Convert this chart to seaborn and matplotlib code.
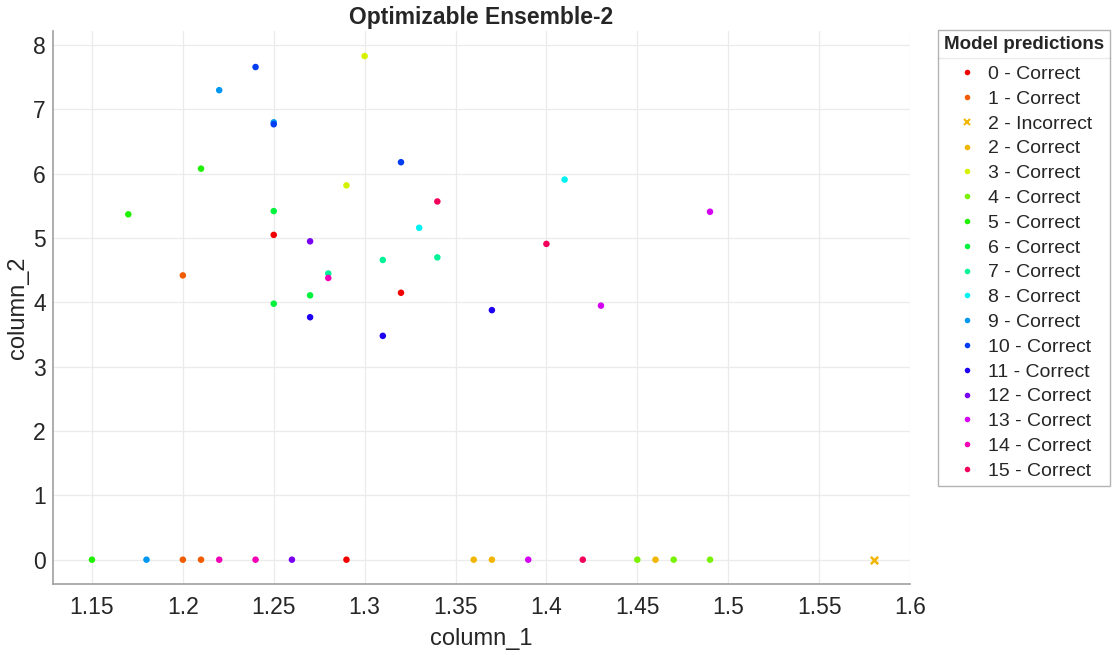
import matplotlib
matplotlib.use("Agg")
import matplotlib.pyplot as plt
import matplotlib.colors as mcolors
from matplotlib.lines import Line2D
import seaborn as sns
import pandas as pd
import numpy as np

# ---- data ----
x_vals = [1.24, 1.22, 1.25, 1.25, 1.30, 1.21, 1.32, 1.29, 1.17, 1.25, 1.25, 1.27,
          1.34, 1.33, 1.41, 1.20, 1.28, 1.28, 1.31, 1.34, 1.40, 1.27, 1.32, 1.25,
          1.27, 1.31, 1.37, 1.43, 1.49,
          1.15, 1.18, 1.20, 1.21, 1.22, 1.24, 1.26, 1.29, 1.36, 1.37, 1.39, 1.42,
          1.45, 1.46, 1.47, 1.49, 1.58]
y_vals = [7.66, 7.30, 6.80, 6.77, 7.83, 6.08, 6.18, 5.82, 5.37, 5.42, 5.05, 4.95,
          5.57, 5.16, 5.91, 4.42, 4.45, 4.38, 4.66, 4.70, 4.91, 4.11, 4.15, 3.98,
          3.77, 3.48, 3.88, 3.95, 5.41,
          0, 0, 0, 0, 0, 0, 0, 0, 0, 0, 0, 0,
          0, 0, 0, 0, 0]
classes = [10, 9, 9, 10, 3, 5, 10, 3, 5, 6, 0, 12,
           15, 8, 8, 1, 7, 14, 7, 7, 15, 6, 0, 6,
           11, 11, 11, 13, 13,
           5, 9, 1, 1, 14, 14, 12, 0, 2, 2, 13, 15,
           4, 2, 4, 4, 2]
correct = [True] * 45 + [False]

legend_labels = ["0 - Correct", "1 - Correct", "2 - Incorrect", "2 - Correct",
                 "3 - Correct", "4 - Correct", "5 - Correct", "6 - Correct",
                 "7 - Correct", "8 - Correct", "9 - Correct", "10 - Correct",
                 "11 - Correct", "12 - Correct", "13 - Correct", "14 - Correct",
                 "15 - Correct"]
x_ticks = [1.15, 1.2, 1.25, 1.3, 1.35, 1.4, 1.45, 1.5, 1.55, 1.6]
x_tick_labels = ["1.15", "1.2", "1.25", "1.3", "1.35", "1.4", "1.45", "1.5", "1.55", "1.6"]
y_ticks = [0, 1, 2, 3, 4, 5, 6, 7, 8]

# ---- build frame ----
df = pd.DataFrame({"column_1": x_vals, "column_2": y_vals,
                   "cls": classes, "correct": correct})
df["label"] = [f"{c} - {'Correct' if ok else 'Incorrect'}" for c, ok in zip(df.cls, df.correct)]

n_cls = 16
cls_colors = {c: mcolors.hsv_to_rgb((c / n_cls, 1.0, 0.95)) for c in range(n_cls)}
palette = {lab: cls_colors[int(lab.split(" ")[0])] for lab in legend_labels}

sns.set_style("white")
plt.rcParams["font.family"] = ["Liberation Sans", "DejaVu Sans"]

fig = plt.figure(figsize=(11.16, 6.55), dpi=100)
ax = fig.add_axes([52.5 / 1116, 1 - 584 / 655, (910 - 52.5) / 1116, (584 - 31) / 655])

ok_df = df[df.correct]
bad_df = df[~df.correct]
sns.scatterplot(data=ok_df, x="column_1", y="column_2", hue="label",
                palette=palette, s=22, linewidth=0, legend=False, ax=ax, zorder=3)
sns.scatterplot(data=bad_df, x="column_1", y="column_2", hue="label",
                palette=palette, marker="x", s=28, linewidth=1.8, legend=False,
                ax=ax, zorder=3)

ax.set_xlim(1.1283, 1.6)
ax.set_ylim(-0.378, 8.22)
ax.set_xticks(x_ticks)
ax.set_xticklabels(x_tick_labels)
ax.set_yticks(y_ticks)
ax.grid(True, color="#ebebeb", linewidth=0.9, zorder=0)
ax.set_axisbelow(True)
for s in ["top", "right"]:
    ax.spines[s].set_visible(False)
for s in ["left", "bottom"]:
    ax.spines[s].set_color("#a0a0a0")
    ax.spines[s].set_linewidth(1.2)
ax.tick_params(direction="in", length=6, width=1, color="#a0a0a0",
               labelsize=16.5, labelcolor="#262626")
ax.tick_params(axis="x", pad=9)
ax.tick_params(axis="y", pad=4.8)
ax.set_xlabel("column_1", fontsize=17, color="#262626", labelpad=6)
ax.set_ylabel("column_2", fontsize=17, color="#262626")
ax.yaxis.set_label_coords(-0.027, 0.5)
ax.set_title("Optimizable Ensemble-2", fontsize=16.5, fontweight="bold", pad=5)

# ---- legend ----
handles = []
for lab in legend_labels:
    mk = "x" if "Incorrect" in lab else "o"
    handles.append(Line2D([], [], linestyle="none", marker=mk,
                          markersize=4 if mk == "o" else 4.5,
                          markeredgewidth=0 if mk == "o" else 1.5,
                          color=palette[lab]))
leg = fig.legend(handles, legend_labels, title="Model predictions",
                 loc="upper left", bbox_to_anchor=(938 / 1116, 1 - 30 / 655),
                 borderaxespad=0, frameon=True, fancybox=False,
                 fontsize=14, title_fontproperties={"weight": "bold", "size": 13.5},
                 handlelength=1.2, handletextpad=0.5, labelspacing=0.37,
                 borderpad=0.3)
leg._legend_box.sep = 9
leg.get_frame().set_edgecolor("#a0a0a0")
leg.get_frame().set_linewidth(1.0)

fig.canvas.draw()
bb = leg.get_window_extent()
sep_y = 1 - 58 / 655
fig.add_artist(Line2D([bb.x0 / 1116, bb.x1 / 1116], [sep_y, sep_y],
                      transform=fig.transFigure, color="#a0a0a0", linewidth=1.0))

fig.savefig("out.png", dpi=100)
